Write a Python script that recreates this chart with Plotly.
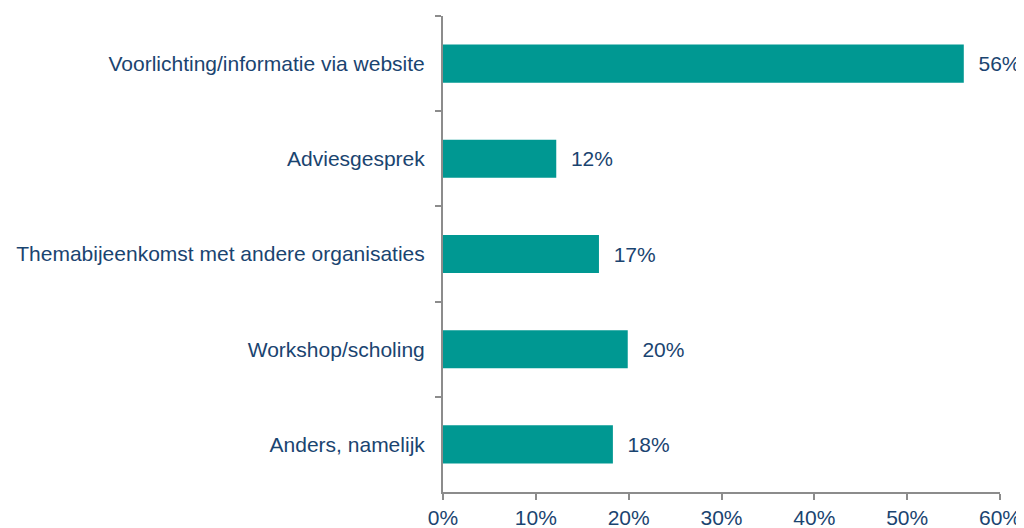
import plotly.graph_objects as go

CATEGORIES = ['Voorlichting/informatie via website', 'Adviesgesprek',
              'Themabijeenkomst met andere organisaties', 'Workshop/scholing',
              'Anders, namelijk']
VALUES = [56.1, 12.2, 16.8, 19.9, 18.3]
XTICKS = [0, 10, 20, 30, 40, 50, 60]
XTICK_LABELS = ['{}%'.format(t) for t in XTICKS]

TEAL = '#009892'
TEXT = '#1a4470'
AXIS = '#8c8c8c'

fig = go.Figure()
fig.add_trace(go.Bar(x=VALUES, y=CATEGORIES, orientation='h',
                     marker=dict(color=TEAL, line=dict(width=0)),
                     text=['  {:.0f}%'.format(v) for v in VALUES],
                     textposition='outside', cliponaxis=False,
                     textfont=dict(size=21, color=TEXT),
                     showlegend=False))

# page body has an 8px offset, so the figure is sized to fit inside the window
fig.update_layout(width=1016, height=520, plot_bgcolor='white', paper_bgcolor='white',
                  margin=dict(l=435, r=24, t=8, b=36),
                  bargap=0.6,
                  font=dict(family='Liberation Sans, Arial, sans-serif', size=21, color=TEXT))
fig.update_xaxes(range=[0, 60], tickvals=XTICKS, ticktext=XTICK_LABELS, automargin=False,
                 showgrid=False, zeroline=False, showline=True, linecolor=AXIS, linewidth=2,
                 ticks='outside', ticklen=6, tickcolor=AXIS, tickwidth=2, ticklabelstandoff=0)
fig.update_yaxes(autorange='reversed', tickson='boundaries', showgrid=False, automargin=False,
                 showline=True, linecolor=AXIS, linewidth=2,
                 ticks='outside', ticklen=6, tickcolor=AXIS, tickwidth=2, ticklabelstandoff=12)

fig.write_html("out.html")
